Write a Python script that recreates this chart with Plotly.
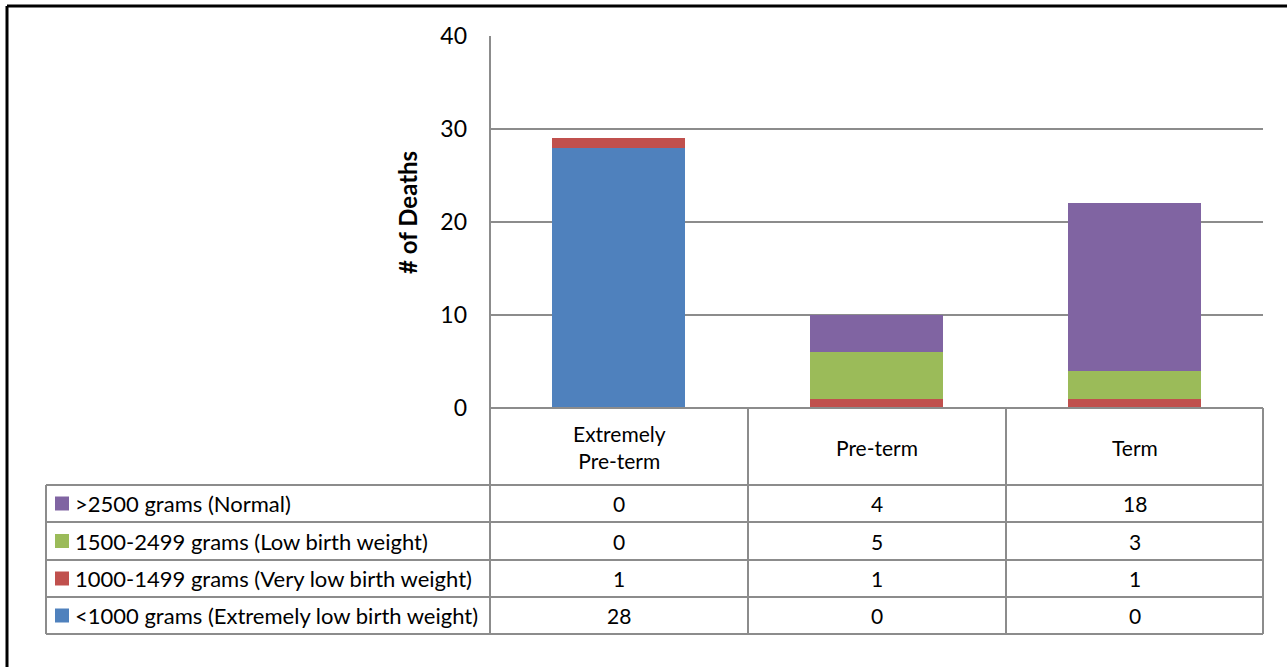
import plotly.graph_objects as go

categories = ["Extremely<br>Pre-term", "Pre-term", "Term"]
series_names = [
    "<1000 grams (Extremely low birth weight)",
    "1000-1499 grams (Very low birth weight)",
    "1500-2499 grams (Low birth weight)",
    ">2500 grams (Normal)",
]
series_values = [
    [28, 0, 0],
    [1, 1, 1],
    [0, 5, 3],
    [0, 4, 18],
]
series_colors = ["#4F81BD", "#C0504D", "#9BBB59", "#8064A2"]
y_ticks = [0, 10, 20, 30, 40]

W, H = 1287, 667
FONT = "Lato, Open Sans, sans-serif"
GRID = "#8c8c8c"


def px(x):
    return x / W


def py(y):
    return 1 - y / H


x0, x1 = 490, 1263
ytop, ybot = 36, 408
col_edges = [490, 748, 1006, 1263]
row_edges = [485, 522, 560, 597, 634]
legend_left = 46

fig = go.Figure()
for name, vals, col in zip(series_names, series_values, series_colors):
    fig.add_trace(go.Bar(x=categories, y=vals, name=name, marker_color=col,
                         marker_line_width=0, showlegend=False))

fig.update_layout(
    template="none",
    width=W, height=H, autosize=False,
    margin=dict(l=0, r=0, t=0, b=0, pad=0),
    paper_bgcolor="white", plot_bgcolor="white",
    barmode="stack", bargap=0.485,
    font=dict(family=FONT, color="black"),
    xaxis=dict(domain=[px(x0), px(x1)], showticklabels=False, showgrid=False,
               zeroline=False, showline=False, fixedrange=True, automargin=False),
    yaxis=dict(domain=[py(ybot), py(ytop)], range=[0, 40], tickvals=y_ticks,
               showgrid=True, gridcolor=GRID, gridwidth=2, zeroline=False,
               showline=False, tickfont=dict(size=23, family=FONT),
               ticklabelstandoff=22, ticks="", automargin=False),
)

shapes = []
line = dict(color=GRID, width=2)
shapes.append(dict(type="line", xref="paper", yref="paper", x0=px(x0), x1=px(x0),
                   y0=py(ytop), y1=py(485), line=line))
shapes.append(dict(type="line", xref="paper", yref="paper", x0=px(x0), x1=px(x1),
                   y0=py(ybot), y1=py(ybot), line=line))
for xe in col_edges[1:]:
    shapes.append(dict(type="line", xref="paper", yref="paper", x0=px(xe), x1=px(xe),
                       y0=py(ybot), y1=py(row_edges[-1]), line=line))
for ye in row_edges:
    shapes.append(dict(type="line", xref="paper", yref="paper", x0=px(legend_left), x1=px(x1),
                       y0=py(ye), y1=py(ye), line=line))
for xe in [legend_left, x0]:
    shapes.append(dict(type="line", xref="paper", yref="paper", x0=px(xe), x1=px(xe),
                       y0=py(row_edges[0]), y1=py(row_edges[-1]), line=line))
shapes.append(dict(type="line", xref="paper", yref="paper", x0=px(7), x1=1,
                   y0=py(6), y1=py(6), line=dict(color="black", width=3)))
shapes.append(dict(type="line", xref="paper", yref="paper", x0=px(7), x1=px(7),
                   y0=py(6), y1=0, line=dict(color="black", width=3)))

annotations = []
annotations.append(dict(text="<b># of Deaths</b>", xref="paper", yref="paper",
                        x=px(407), y=py(213), textangle=-90, showarrow=False,
                        font=dict(size=24, family=FONT), xanchor="center", yanchor="middle"))
for i, c in enumerate(categories):
    cx = (col_edges[i] + col_edges[i + 1]) / 2
    annotations.append(dict(text=c, xref="paper", yref="paper", x=px(cx), y=py(447),
                            showarrow=False, font=dict(size=21, family=FONT),
                            xanchor="center", yanchor="middle"))
order = list(range(len(series_names)))[::-1]
for r, si in enumerate(order):
    cy = (row_edges[r] + row_edges[r + 1]) / 2
    shapes.append(dict(type="rect", xref="paper", yref="paper",
                       x0=px(55), x1=px(69), y0=py(cy - 7), y1=py(cy + 7),
                       fillcolor=series_colors[si], line=dict(width=0)))
    annotations.append(dict(text=series_names[si].replace("<", "&lt;"), xref="paper", yref="paper",
                            x=px(73), y=py(cy), showarrow=False,
                            font=dict(size=22, family=FONT), xanchor="left", yanchor="middle"))
    for j, v in enumerate(series_values[si]):
        cx = (col_edges[j] + col_edges[j + 1]) / 2
        annotations.append(dict(text=str(v), xref="paper", yref="paper", x=px(cx), y=py(cy),
                                showarrow=False, font=dict(size=21, family=FONT),
                                xanchor="center", yanchor="middle"))

fig.update_layout(shapes=shapes, annotations=annotations)
fig.write_html("out.html", config={"displayModeBar": False},
               post_script="document.body.style.margin='0';document.body.style.overflow='hidden';")
